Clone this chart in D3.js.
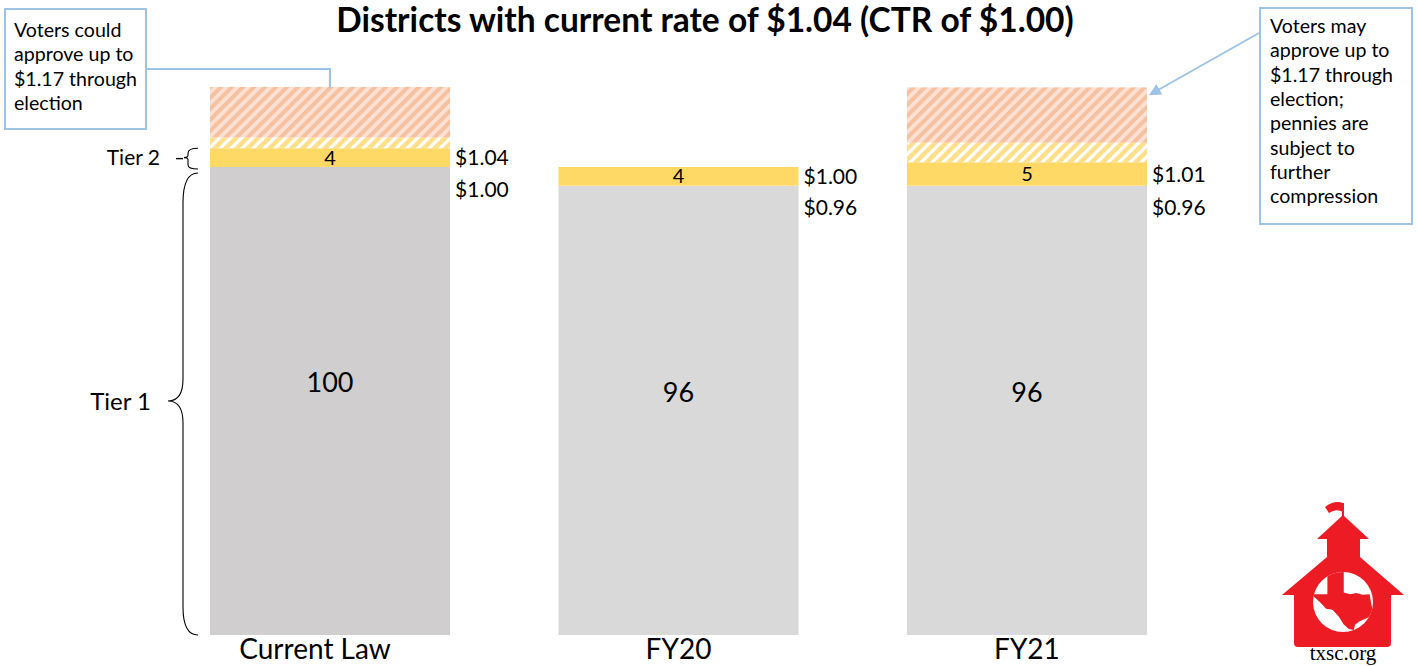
<!DOCTYPE html>
<html>
<head>
<meta charset="utf-8">
<script src="https://cdn.jsdelivr.net/npm/d3@7"></script>
<style>
  body { margin: 0; background: #fff; }
  text { font-family: Lato, "Open Sans", sans-serif; fill: #000; }
</style>
</head>
<body>
<div id="chart"></div>
<script>
// values (cents of tax rate)
var categories = ["Current Law", "FY20", "FY21"];
var tier1 = [100, 96, 96];
var tier2 = [4, 4, 5];
var goldenPennies = [2.3, 0, 4.2];
var copperPennies = [10.8, 0, 11.8];
var rateTop = ["$1.04", "$1.00", "$1.01"];
var rateBase = ["$1.00", "$0.96", "$0.96"];
var leftNote = ["Voters could", "approve up to", "$1.17 through", "election"];
var rightNote = ["Voters may", "approve up to", "$1.17 through", "election;", "pennies are",
                 "subject to", "further", "compression"];
var title = "Districts with current rate of $1.04 (CTR of $1.00)";

var width = 1418, height = 666;
var noteBlue = "#9dc3e6";

var rows = categories.map(function (c, i) {
    return { cat: c, tier1: tier1[i], tier2: tier2[i], golden: goldenPennies[i], copper: copperPennies[i] };
});
var stack = d3.stack().keys(["tier1", "tier2", "golden", "copper"]);
var layers = stack(rows);

var xScale = d3.scaleBand()
    .domain(categories)
    .range([210, 1147])
    .paddingInner(0.311)
    .paddingOuter(0);

var yScale = d3.scaleLinear()
    .domain([0, 117])
    .range([635, 87.4]);

var svg = d3.select("#chart")
    .append("svg")
    .attr("width", width)
    .attr("height", height);

var defs = svg.append("defs");
var copper = defs.append("pattern")
    .attr("id", "copperHatch")
    .attr("patternUnits", "userSpaceOnUse")
    .attr("width", 11).attr("height", 11);
copper.append("rect").attr("width", 11).attr("height", 11).attr("fill", "#fbe0d3");
copper.append("path")
    .attr("d", "M-3,3 l6,-6 M0,11 l11,-11 M8,14 l6,-6")
    .attr("stroke", "#f6c1a0").attr("stroke-width", 4);

var golden = defs.append("pattern")
    .attr("id", "goldenHatch")
    .attr("patternUnits", "userSpaceOnUse")
    .attr("width", 11).attr("height", 11);
golden.append("rect").attr("width", 11).attr("height", 11).attr("fill", "#ffffff");
golden.append("path")
    .attr("d", "M-3,3 l6,-6 M0,11 l11,-11 M8,14 l6,-6")
    .attr("stroke", "#ffe08a").attr("stroke-width", 4.5);

defs.append("marker")
    .attr("id", "arrow")
    .attr("viewBox", "0 0 10 10")
    .attr("refX", 8).attr("refY", 5)
    .attr("markerWidth", 6).attr("markerHeight", 6)
    .attr("orient", "auto")
    .append("path")
    .attr("d", "M0,0 L10,5 L0,10 z")
    .attr("fill", noteBlue);

function layerFill(key, cat) {
    if (key == "tier1") return cat == "Current Law" ? "#d0cece" : "#d9d9d9";
    if (key == "tier2") return "#ffd966";
    if (key == "golden") return "url(#goldenHatch)";
    return "url(#copperHatch)";
}

svg.selectAll("g.layer")
    .data(layers)
    .enter()
    .append("g")
    .attr("class", "layer")
    .each(function (layer) {
        d3.select(this).selectAll("rect")
            .data(layer)
            .enter()
            .append("rect")
            .attr("x", function (d) { return xScale(d.data.cat); })
            .attr("y", function (d) { return yScale(d[1]); })
            .attr("width", xScale.bandwidth())
            .attr("height", function (d) { return yScale(d[0]) - yScale(d[1]); })
            .attr("fill", function (d) { return layerFill(layer.key, d.data.cat); });
    });

// title (the reference crops it at the top edge; kept just inside here)
svg.append("text")
    .attr("x", 705)
    .attr("y", 32)
    .attr("text-anchor", "middle")
    .style("font-size", "33.5px")
    .style("font-weight", "700")
    .text(title);

// category axis
var axis = svg.append("g")
    .attr("transform", "translate(0," + yScale(0) + ")")
    .call(d3.axisBottom(xScale).tickSize(0).tickPadding(4));
axis.select(".domain").remove();
axis.selectAll("text")
    .style("font-family", "Lato, sans-serif")
    .style("font-size", "28px")
    .attr("fill", "#000")
    .attr("dx", function (d, i) { return i == 0 ? -15 : 0; });

// value labels
svg.selectAll("text.tier1Val")
    .data(rows)
    .enter()
    .append("text")
    .attr("class", "tier1Val")
    .attr("x", function (d) { return xScale(d.cat) + xScale.bandwidth() / 2; })
    .attr("y", function (d) { return (yScale(0) + yScale(d.tier1)) / 2 - 18; })
    .attr("text-anchor", "middle")
    .attr("dy", "0.35em")
    .style("font-size", "27px")
    .text(function (d) { return d.tier1; });

svg.selectAll("text.tier2Val")
    .data(rows)
    .enter()
    .append("text")
    .attr("class", "tier2Val")
    .attr("x", function (d) { return xScale(d.cat) + xScale.bandwidth() / 2; })
    .attr("y", function (d) { return yScale(d.tier1 + d.tier2 / 2); })
    .attr("text-anchor", "middle")
    .attr("dy", "0.35em")
    .style("font-size", "20px")
    .text(function (d) { return d.tier2; });

// rate labels at right of each bar
svg.selectAll("text.rateTop")
    .data(rows)
    .enter()
    .append("text")
    .attr("class", "rateTop")
    .attr("x", function (d) { return xScale(d.cat) + xScale.bandwidth() + 5; })
    .attr("y", function (d) { return yScale(d.tier1 + d.tier2 / 2); })
    .attr("dy", "0.36em")
    .style("font-size", "21px")
    .text(function (d, i) { return rateTop[i]; });

svg.selectAll("text.rateBase")
    .data(rows)
    .enter()
    .append("text")
    .attr("class", "rateBase")
    .attr("x", function (d) { return xScale(d.cat) + xScale.bandwidth() + 5; })
    .attr("y", function (d) { return yScale(d.tier1) + 22; })
    .attr("dy", "0.36em")
    .style("font-size", "21px")
    .text(function (d, i) { return rateBase[i]; });

// tier braces
var t2top = yScale(tier1[0] + tier2[0]), t2bot = yScale(tier1[0]);
var t2mid = (t2top + t2bot) / 2;
svg.append("path")
    .attr("d", "M198," + t2top + " Q188," + t2top + " 188," + (t2top + 5) +
        " L188," + (t2mid - 2) + " Q188," + t2mid + " 184," + t2mid +
        " Q188," + t2mid + " 188," + (t2mid + 2) +
        " L188," + (t2bot - 2) + " Q188," + (t2bot + 2) + " 198," + (t2bot + 2))
    .attr("fill", "none").attr("stroke", "#000").attr("stroke-width", 1.1);
svg.append("line")
    .attr("x1", 176).attr("x2", 183).attr("y1", t2mid + 1).attr("y2", t2mid + 1)
    .attr("stroke", "#000").attr("stroke-width", 1.4);
svg.append("text")
    .attr("x", 160).attr("y", t2mid).attr("dy", "0.36em")
    .attr("text-anchor", "end")
    .style("font-size", "21px")
    .text("Tier 2");

var t1top = yScale(tier1[0]) + 6, t1bot = yScale(0);
var t1mid = 401;
svg.append("path")
    .attr("d", "M198," + t1top + " Q183," + t1top + " 183," + (t1top + 30) +
        " L183," + (t1mid - 22) + " Q183," + t1mid + " 168," + t1mid +
        " Q183," + t1mid + " 183," + (t1mid + 22) +
        " L183," + (t1bot - 28) + " Q183," + t1bot + " 198," + t1bot)
    .attr("fill", "none").attr("stroke", "#000").attr("stroke-width", 1.1);
svg.append("text")
    .attr("x", 151).attr("y", t1mid).attr("dy", "0.36em")
    .attr("text-anchor", "end")
    .style("font-size", "24px")
    .text("Tier 1");

// callouts
svg.append("rect")
    .attr("x", 5).attr("y", 9).attr("width", 141).attr("height", 120)
    .attr("fill", "#fff").attr("stroke", noteBlue).attr("stroke-width", 2);
svg.append("path")
    .attr("d", "M146,69 L330,69 L330," + yScale(117))
    .attr("fill", "none").attr("stroke", noteBlue).attr("stroke-width", 2);
svg.selectAll("text.leftNote")
    .data(leftNote)
    .enter()
    .append("text")
    .attr("x", 14)
    .attr("y", function (d, i) { return 37 + i * 24.3; })
    .style("font-size", "19.6px")
    .text(function (d) { return d; });

svg.append("rect")
    .attr("x", 1260).attr("y", 8).attr("width", 152).attr("height", 216)
    .attr("fill", "#fff").attr("stroke", noteBlue).attr("stroke-width", 2);
svg.append("line")
    .attr("x1", 1259).attr("y1", 33).attr("x2", 1151).attr("y2", 94)
    .attr("stroke", noteBlue).attr("stroke-width", 2)
    .attr("marker-end", "url(#arrow)");
svg.selectAll("text.rightNote")
    .data(rightNote)
    .enter()
    .append("text")
    .attr("x", 1270)
    .attr("y", function (d, i) { return 33 + i * 24.3; })
    .style("font-size", "19.6px")
    .text(function (d) { return d; });

// txsc logo
var red = "#ed1c24";
var logo = svg.append("g").attr("transform", "translate(0,-4)");
logo.append("line").attr("x1", 1343).attr("x2", 1343).attr("y1", 507).attr("y2", 521)
    .attr("stroke", red).attr("stroke-width", 2);
logo.append("path").attr("d", "M1343,507 Q1334,504 1325,511 L1329,517 Q1336,512 1343,516 Z").attr("fill", red);
logo.append("path").attr("d", "M1317,543 L1343,519 L1369,543 Z").attr("fill", red);
logo.append("rect").attr("x", 1327).attr("y", 541).attr("width", 33).attr("height", 25).attr("fill", red);
logo.append("path").attr("d", "M1282,599 L1327,561 L1360,561 L1404,599 Z").attr("fill", red);
logo.append("path").attr("d", "M1294,598 L1391,598 L1391,647 Q1391,651 1387,651 L1298,651 Q1294,651 1294,647 Z").attr("fill", red);
logo.append("circle").attr("cx", 1343).attr("cy", 606).attr("r", 30).attr("fill", "#fff");
defs.append("clipPath").attr("id", "logoCircle")
    .append("circle").attr("cx", 1343).attr("cy", 606).attr("r", 30);
var texas = [[0.26, -0.1], [0.52, -0.1], [0.52, 0.33], [0.62, 0.36], [0.72, 0.34], [0.82, 0.37], [0.93, 0.36],
             [0.96, 0.55], [1.0, 0.72], [0.9, 0.78], [0.78, 0.84], [0.7, 0.9], [0.68, 1.0], [0.6, 0.98],
             [0.52, 0.9], [0.44, 0.76], [0.34, 0.64], [0.24, 0.62], [0.14, 0.5], [0.0, 0.36], [0.26, 0.36]];
var tx = d3.scaleLinear().domain([0, 1]).range([1311, 1374]);
var ty = d3.scaleLinear().domain([0, 1]).range([578, 634]);
logo.append("path")
    .attr("clip-path", "url(#logoCircle)")
    .attr("d", d3.line().x(function (p) { return tx(p[0]); }).y(function (p) { return ty(p[1]); }).curve(d3.curveLinearClosed)(texas))
    .attr("fill", red);
svg.append("text")
    .attr("x", 1343).attr("y", 660)
    .attr("text-anchor", "middle")
    .style("font-family", "'Liberation Serif', 'DejaVu Serif', serif")
    .style("font-size", "21px")
    .attr("fill", "#222")
    .text("txsc.org");
</script>
</body>
</html>
